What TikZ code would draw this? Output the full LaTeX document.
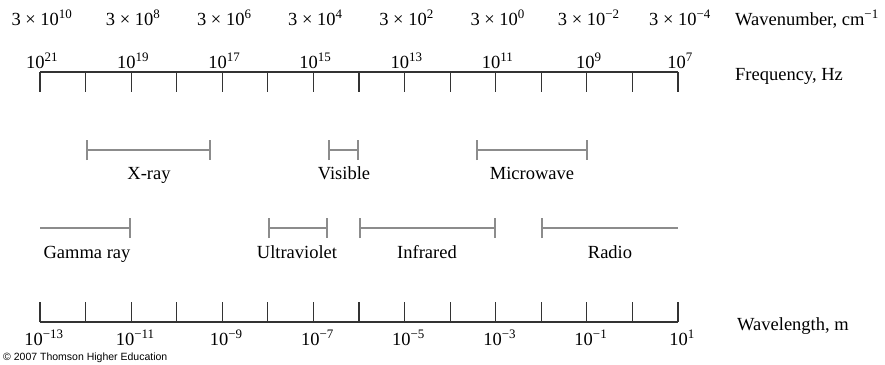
\documentclass[tikz,border=0pt]{standalone}
\usepackage{fontspec}
\setmainfont{Liberation Serif}
\newfontfamily\creditfont{Liberation Sans}
\usetikzlibrary{arrows.meta}

\begin{document}
\begin{tikzpicture}[x=1pt, y=-1pt]
    % Define styles
    \tikzstyle{axis} = [draw=black!80, line width=1.1pt]
    \tikzstyle{band} = [draw=black!45, line width=2pt]
    \tikzstyle{scalelabel} = [font=\fontsize{18.5}{20}\selectfont, inner sep=0pt, anchor=base]
    \tikzstyle{axistitle} = [font=\fontsize{18.5}{20}\selectfont, inner sep=0pt, anchor=base west]
    \tikzstyle{bandlabel} = [font=\fontsize{18.5}{20}\selectfont, inner sep=0pt, anchor=base]
    \useasboundingbox (0,0) rectangle (885,364);

    % Wavenumber row
    \foreach \i/\e in {0/10,1/8,2/6,3/4,4/2,5/0,6/{−2},7/{−4}}
        \node[scalelabel] (wn\i) at (42+91.14*\i, 25) {3 × 10\textsuperscript{\e}};
    \node[axistitle] (wntitle) at (735,25) {Wavenumber, cm\textsuperscript{−1}};

    % Frequency axis
    \coordinate (fleft) at (40,72);
    \coordinate (fright) at (678,72);
    \draw[axis] (fleft) -- (fright);
    \foreach \i in {0,...,14}
        \draw[axis] (40+45.57*\i, 72) -- ++(0,20);
    \foreach \i/\e in {0/21,1/19,2/17,3/15,4/13,5/11,6/9,7/7}
        \node[scalelabel] (fq\i) at (42+91.14*\i, 68) {10\textsuperscript{\e}};
    \node[axistitle] (fqtitle) at (735,80) {Frequency, Hz};

    % Upper bands
    \coordinate (xa) at (85.6,150);   \coordinate (xb) at (210.9,150);
    \coordinate (va) at (328,150);    \coordinate (vb) at (359,150);
    \coordinate (ma) at (476,150);    \coordinate (mb) at (588,150);
    \draw[band, {Bar[width=20pt]}-{Bar[width=20pt]}] (xa) -- (xb);
    \draw[band, {Bar[width=20pt]}-{Bar[width=20pt]}] (va) -- (vb);
    \draw[band, {Bar[width=20pt]}-{Bar[width=20pt]}] (ma) -- (mb);
    \node[bandlabel] (xray) at (149,179) {X-ray};
    \node[bandlabel] (visible) at (344,179) {Visible};
    \node[bandlabel] (microwave) at (532,179) {Microwave};

    % Lower bands
    \coordinate (ga) at (40,228);     \coordinate (gb) at (131.1,228);
    \coordinate (ua) at (267.9,228);  \coordinate (ub) at (328,228);
    \coordinate (ia) at (359,228);    \coordinate (ib) at (495.7,228);
    \coordinate (ra) at (541.3,228);  \coordinate (rb) at (678,228);
    \draw[band, -{Bar[width=20pt]}] (ga) -- (gb);
    \draw[band, {Bar[width=20pt]}-{Bar[width=20pt]}] (ua) -- (ub);
    \draw[band, {Bar[width=20pt]}-{Bar[width=20pt]}] (ia) -- (ib);
    \draw[band, {Bar[width=20pt]}-] (ra) -- (rb);
    \node[bandlabel] (gamma) at (87,258) {Gamma ray};
    \node[bandlabel] (uv) at (297,258) {Ultraviolet};
    \node[bandlabel] (ir) at (427,258) {Infrared};
    \node[bandlabel] (radio) at (610,258) {Radio};

    % Wavelength axis
    \coordinate (wleft) at (40,322);
    \coordinate (wright) at (678,322);
    \draw[axis] (wleft) -- (wright);
    \foreach \i in {0,...,14}
        \draw[axis] (40+45.57*\i, 322) -- ++(0,-20);
    \foreach \i/\e in {0/{−13},1/{−11},2/{−9},3/{−7},4/{−5},5/{−3},6/{−1},7/1}
        \node[scalelabel] (wl\i) at (44+91.14*\i, 345) {10\textsuperscript{\e}};
    \node[axistitle] (wltitle) at (737,330) {Wavelength, m};

    % Credit line
    \node[inner sep=0pt, anchor=base west, font=\creditfont\fontsize{10.5}{11}\selectfont] (credit) at (3,360) {© 2007 Thomson Higher Education};
\end{tikzpicture}
\end{document}
